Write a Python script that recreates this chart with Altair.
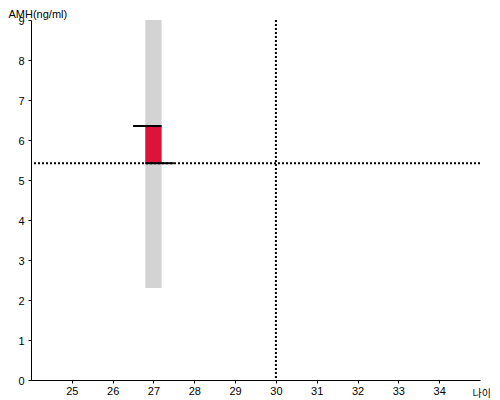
import altair as alt
import pandas as pd

# data
range_age = [27]
range_low = [2.3]
range_high = [9.0]
my_age = [27]
my_amh = [6.35]
avg_amh = [5.42]
ref_age = [30]

grey = pd.DataFrame({"x1": [a - 0.2 for a in range_age], "x2": [a + 0.2 for a in range_age],
                     "y1": range_low, "y2": range_high})
red = pd.DataFrame({"x1": [a - 0.2 for a in my_age], "x2": [a + 0.2 for a in my_age],
                    "y1": avg_amh, "y2": my_amh})
top_line = pd.DataFrame({"x1": [a - 0.5 for a in my_age], "x2": [a + 0.2 for a in my_age], "y": my_amh})
bot_line = pd.DataFrame({"x1": [a - 0.2 for a in my_age], "x2": [a + 0.5 for a in my_age], "y": avg_amh})
hline = pd.DataFrame({"y": avg_amh})
vline = pd.DataFrame({"x": ref_age})

xs = alt.Scale(domain=[24, 35], nice=False)
ys = alt.Scale(domain=[0, 9], nice=False)

xaxis = alt.Axis(values=list(range(25, 35)), title="나이", titleX=441, titleY=13,
                 titleAlign="left", titleBaseline="middle", titleFont="Noto Sans CJK KR",
                 titleFontSize=10, titleFontWeight="normal", titleColor="#000",
                 grid=False, tickSize=3, labelFontSize=11, labelColor="#000",
                 labelFont="Liberation Sans", domainColor="#000", tickColor="#000", labelPadding=2,
                 labelOverlap=False)
yaxis = alt.Axis(values=list(range(0, 10)), title="AMH(ng/ml)", titleAngle=0, titleX=-23, titleY=-12,
                 titleAlign="left", titleBaseline="top", titleFont="Liberation Sans",
                 titleFontSize=11, titleFontWeight="normal", titleColor="#000",
                 grid=False, tickSize=3, labelFontSize=11, labelColor="#000",
                 labelFont="Liberation Sans", domainColor="#000", tickColor="#000", labelPadding=4,
                 labelOffset=1, labelOverlap=False)

X = lambda f: alt.X(f, scale=xs, axis=xaxis)
Y = lambda f: alt.Y(f, scale=ys, axis=yaxis)

g = alt.Chart(grey).mark_rect(color="#d3d3d3").encode(
    x=X("x1:Q"), x2="x2", y=Y("y1:Q"), y2="y2")
r = alt.Chart(red).mark_rect(color="#dc143c").encode(
    x=X("x1:Q"), x2="x2", y=Y("y1:Q"), y2="y2")
h = alt.Chart(hline).mark_rule(color="#000", strokeWidth=2, strokeDash=[2, 2]).encode(
    y=Y("y:Q"))
v = alt.Chart(vline).mark_rule(color="#000", strokeWidth=2, strokeDash=[2, 2]).encode(
    x=X("x:Q"))
t = alt.Chart(top_line).mark_rule(color="#000", strokeWidth=2).encode(
    x=X("x1:Q"), x2="x2", y=Y("y:Q"))
b = alt.Chart(bot_line).mark_rule(color="#000", strokeWidth=2).encode(
    x=X("x1:Q"), x2="x2", y=Y("y:Q"))

chart = alt.layer(g, r, h, v, t, b).properties(
    width=449, height=360, autosize=alt.AutoSizeParams(type="none"),
    padding={"left": 23, "top": 12, "right": 12, "bottom": 20}
).configure_view(stroke=None)

chart.save("out.html", embed_options={"renderer": "svg", "actions": False})
